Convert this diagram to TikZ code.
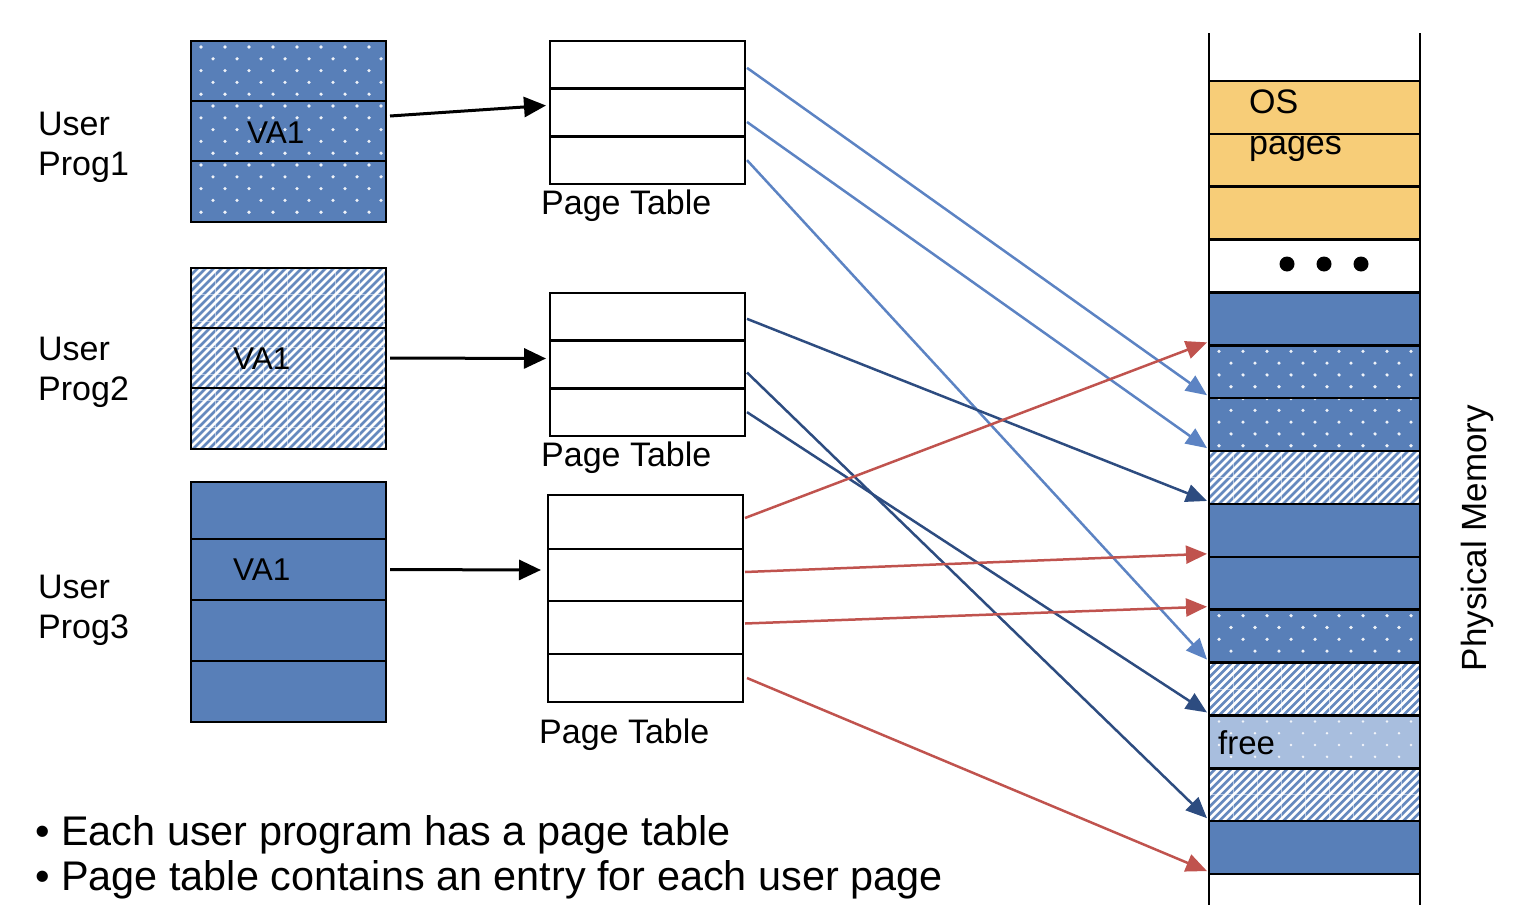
\documentclass[tikz,border=0pt]{standalone}
\usepackage{fontspec}
\setmainfont{Liberation Sans}
\usetikzlibrary{arrows.meta}
\definecolor{blueA}{RGB}{88,127,184}
\definecolor{orangeA}{RGB}{247,205,120}
\definecolor{arrL}{RGB}{92,131,195}
\definecolor{arrD}{RGB}{45,76,128}
\definecolor{arrR}{RGB}{192,83,78}
\definecolor{freeA}{RGB}{168,190,222}
\newcommand\mydots[4]{%
 \begin{scope}
 \clip (#1,#2) rectangle (#3,#4);
 \fill[blueA] (#1,#2) rectangle (#3,#4);
 \foreach \r in {0,...,16}{\foreach \c in {0,...,9}{%
   \fill[white!90!blueA] ({#1+10+24*\c-12*mod(\r,2)},{#2+6+11.8*\r}) circle (1.8);}}
 \end{scope}}
\newcommand\myhatch[4]{%
 \begin{scope}
 \clip (#1,#2) rectangle (#3,#4);
 \fill[white] (#1,#2) rectangle (#3,#4);
 \foreach \k in {-26,...,28}{\draw[blueA!92!white, line width=2.6pt] ({#1+8*\k},{#4+2}) -- ++(204,-204);}
 \foreach \k in {1,...,9}{\draw[white, line width=0.8pt, opacity=0.5] ({#1+24*\k},#2) -- ({#1+24*\k},#4);}
 \foreach \k in {1,...,7}{\draw[white, line width=0.8pt, opacity=0.5] (#1,{#2+26.5*\k}) -- (#3,{#2+26.5*\k});}
 \end{scope}}
\newcommand\myfree[4]{%
 \begin{scope}
 \clip (#1,#2) rectangle (#3,#4);
 \fill[freeA] (#1,#2) rectangle (#3,#4);
 \foreach \r in {0,...,4}{\foreach \c in {0,...,9}{%
   \fill[white!85!freeA] ({#1+10+24*\c-12*mod(\r,2)},{#2+6+11.8*\r}) circle (1.4);}}
 \end{scope}}
\tikzset{
 cell/.style={draw, line width=2.5pt, inner sep=0pt, outer sep=0pt, anchor=north west},
 lbl/.style={inner sep=0pt, font=\fontsize{34}{40}\selectfont},
 blk/.style={-{Triangle[length=22pt,width=20pt]}, line width=3pt, black},
 con/.style={-{Triangle[length=21pt,width=18pt]}, line width=2.5pt},
}
\begin{document}
\begin{tikzpicture}[x=1pt,y=-1pt]
\useasboundingbox (0,0) rectangle (1520,916);

% ---------- user programs ----------
\mydots{191}{41}{386}{222}
\myhatch{191}{268}{386}{449}
\fill[blueA] (191,482) rectangle (386,722);

\node[cell, minimum width=195pt, minimum height=60pt] (p1r1) at (191,41) {};
\node[cell, minimum width=195pt, minimum height=60pt] (p1r2) at (191,101) {};
\node[cell, minimum width=195pt, minimum height=61pt] (p1r3) at (191,161) {};
\node[cell, minimum width=195pt, minimum height=60pt] (p2r1) at (191,268) {};
\node[cell, minimum width=195pt, minimum height=60pt] (p2r2) at (191,328) {};
\node[cell, minimum width=195pt, minimum height=61pt] (p2r3) at (191,388) {};
\node[cell, minimum width=195pt, minimum height=57pt] (p3r1) at (191,482) {};
\node[cell, minimum width=195pt, minimum height=61pt] (p3r2) at (191,539) {};
\node[cell, minimum width=195pt, minimum height=61pt] (p3r3) at (191,600) {};
\node[cell, minimum width=195pt, minimum height=61pt] (p3r4) at (191,661) {};

\node[lbl, anchor=base west, font=\fontsize{31.5}{36}\selectfont] (va1) at (247,143) {VA1};
\node[lbl, anchor=base west, font=\fontsize{31.5}{36}\selectfont] (va2) at (233,369) {VA1};
\node[lbl, anchor=base west, font=\fontsize{31.5}{36}\selectfont] (va3) at (233,580) {VA1};

\node[lbl, anchor=west, align=left] (u1) at (38,147) {User\\Prog1};
\node[lbl, anchor=west, align=left] (u2) at (38,372) {User\\Prog2};
\node[lbl, anchor=west, align=left] (u3) at (38,610) {User\\Prog3};

% ---------- page tables ----------
\node[cell, minimum width=195pt, minimum height=47.67pt] (t1r1) at (550,41) {};
\node[cell, minimum width=195pt, minimum height=47.67pt] (t1r2) at (550,88.67) {};
\node[cell, minimum width=195pt, minimum height=47.67pt] (t1r3) at (550,136.33) {};
\node[cell, minimum width=195pt, minimum height=47.67pt] (t2r1) at (550,293) {};
\node[cell, minimum width=195pt, minimum height=47.67pt] (t2r2) at (550,340.67) {};
\node[cell, minimum width=195pt, minimum height=47.67pt] (t2r3) at (550,388.33) {};
\node[cell, minimum width=195pt, minimum height=54pt] (t3r1) at (548,495) {};
\node[cell, minimum width=195pt, minimum height=52pt] (t3r2) at (548,549) {};
\node[cell, minimum width=195pt, minimum height=53pt] (t3r3) at (548,601) {};
\node[cell, minimum width=195pt, minimum height=48pt] (t3r4) at (548,654) {};

\node[lbl, anchor=base west] (pt1) at (541,214) {Page Table};
\node[lbl, anchor=base west] (pt2) at (541,466) {Page Table};
\node[lbl, anchor=base west] (pt3) at (539,743) {Page Table};

% ---------- physical memory ----------
\fill[orangeA] (1209,81) rectangle (1420,239.61);
\fill[blueA] (1209,292.48) rectangle (1420,345.35);
\mydots{1209}{345.35}{1420}{451.09}
\myhatch{1209}{451.09}{1420}{503.96}
\fill[blueA] (1209,503.96) rectangle (1420,609.7);
\mydots{1209}{609.7}{1420}{662.57}
\myhatch{1209}{662.57}{1420}{715.44}
\myfree{1209}{715.44}{1420}{768.31}
\myhatch{1209}{768.31}{1420}{821.18}
\fill[blueA] (1209,821.18) rectangle (1420,874.05);

\foreach \i in {1,...,15}{
  \node[cell, minimum width=211pt, minimum height=52.87pt] (m\i) at (1209,{81+52.87*(\i-1)}) {};
}
\draw[line width=2.5pt] (1209,33) -- (1209,905);
\draw[line width=2.5pt] (1420,33) -- (1420,905);

\fill (1287,264) circle (7.5);
\fill (1324,264) circle (7.5);
\fill (1361,264) circle (7.5);

\node[lbl, anchor=west, align=left, font=\fontsize{34}{41}\selectfont] (os) at (1249,126) {OS\\pages};
\node[lbl, anchor=base west, font=\fontsize{33}{40}\selectfont] (fr) at (1218,754) {free};

\node[lbl, rotate=90, font=\fontsize{35}{40}\selectfont] (pm) at (1477,538) {Physical Memory};

% ---------- connectors ----------
\draw[blk] ([shift={(4,-15)}]p1r2.east) -- ([shift={(-4,-7)}]t1r2.west);
\draw[blk] ([shift={(4,0)}]p2r2.east) -- ([shift={(-4,-6)}]t2r2.west);
\draw[blk] ([shift={(4,0)}]p3r2.east) -- ([shift={(-7,-5)}]t3r2.west);

\draw[con, arrL] ([shift={(2,3)}]t1r1.east) -- ([shift={(-2,-3)}]m6.south west);
\draw[con, arrL] ([shift={(2,9.5)}]t1r2.east) -- ([shift={(-2,-3)}]m7.south west);
\draw[con, arrL] ([shift={(2,0)}]t1r3.east) -- ([shift={(-2,-3)}]m11.south west);

\draw[con, arrD] ([shift={(2,2)}]t2r1.east) -- ([shift={(-2,-3)}]m8.south west);
\draw[con, arrD] ([shift={(2,8)}]t2r2.east) -- ([shift={(-2,-3)}]m14.south west);
\draw[con, arrD] ([shift={(2,0)}]t2r3.east) -- ([shift={(-2,-3)}]m12.south west);

\draw[con, arrR] ([shift={(2,-4)}]t3r1.east) -- ([shift={(-2,-3)}]m5.south west);
\draw[con, arrR] ([shift={(2,-3)}]t3r2.east) -- ([shift={(-2,-3)}]m9.south west);
\draw[con, arrR] ([shift={(2,-4)}]t3r3.east) -- ([shift={(-2,-3)}]m10.south west);
\draw[con, arrR] ([shift={(4,0)}]t3r4.east) -- ([shift={(-2,-3)}]m15.south west);

% ---------- bullets ----------
\node[lbl, anchor=base west, font=\fontsize{41.4}{46}\selectfont] (b1) at (35,845) {• Each user program has a page table};
\node[lbl, anchor=base west, font=\fontsize{41.4}{46}\selectfont] (b2) at (35,890) {• Page table contains an entry for each user page};
\end{tikzpicture}
\end{document}
